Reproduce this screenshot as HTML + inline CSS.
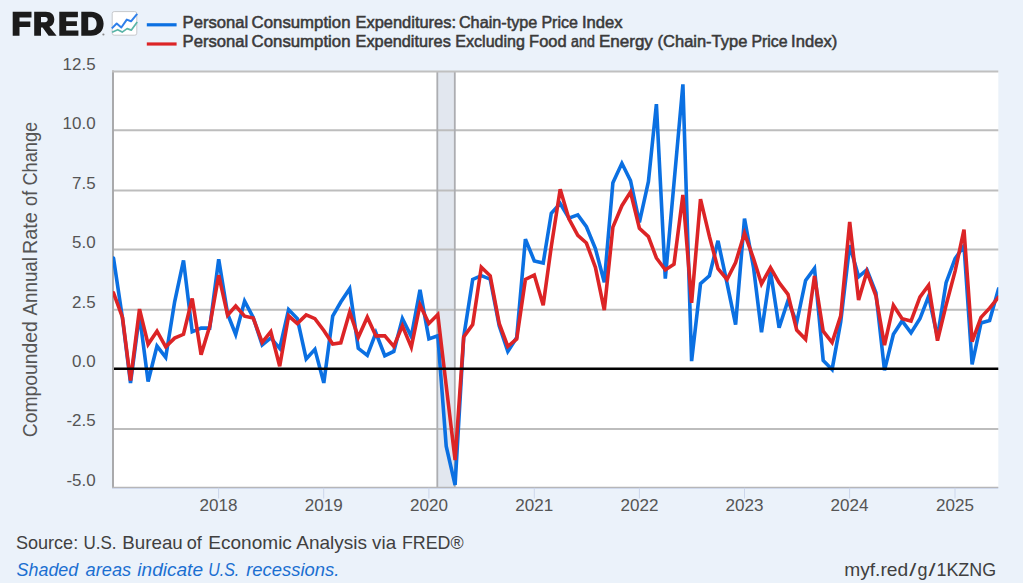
<!DOCTYPE html>
<html><head><meta charset="utf-8"><title>FRED</title>
<style>
html,body{margin:0;padding:0;background:#ebf2fa;}
body{width:1023px;height:583px;overflow:hidden;position:relative;font-family:"Liberation Sans",sans-serif;}
svg{position:absolute;left:0;top:0;}
text{font-family:"Liberation Sans",sans-serif;}
.ax{font-size:16.5px;fill:#555;}
.lg{font-size:16.5px;fill:#3a3a3a;stroke:#3a3a3a;stroke-width:0.55px;}
.ft{font-size:18.2px;fill:#404040;}
</style></head><body>
<svg width="1023" height="583" viewBox="0 0 1023 583">
<rect x="0" y="0" width="1023" height="583" fill="#ebf2fa"/>
<rect x="113" y="71.3" width="885.3" height="415.7" fill="#ffffff"/>
<rect x="437.3" y="71.3" width="17.5" height="415.7" fill="#e2e7ef"/>
<line x1="113" x2="998.3" y1="130.3" y2="130.3" stroke="#bdbdbd" stroke-width="2"/><line x1="113" x2="998.3" y1="190.5" y2="190.5" stroke="#bdbdbd" stroke-width="2"/><line x1="113" x2="998.3" y1="249.5" y2="249.5" stroke="#bdbdbd" stroke-width="2"/><line x1="113" x2="998.3" y1="309.7" y2="309.7" stroke="#bdbdbd" stroke-width="2"/><line x1="113" x2="998.3" y1="428.9" y2="428.9" stroke="#bdbdbd" stroke-width="2"/>
<line x1="437.3" x2="437.3" y1="71.3" y2="487" stroke="#acadb1" stroke-width="1.8"/>
<line x1="454.8" x2="454.8" y1="71.3" y2="487" stroke="#acadb1" stroke-width="1.8"/>
<line x1="113" x2="113" y1="70.5" y2="487.8" stroke="#a6a6a8" stroke-width="1.9"/>
<line x1="112" x2="998.3" y1="71.6" y2="71.6" stroke="#c0c0c0" stroke-width="2"/>
<line x1="112" x2="998.3" y1="488.5" y2="488.5" stroke="#d0d9ec" stroke-width="1"/><line x1="112" x2="998.3" y1="487.4" y2="487.4" stroke="#b6b6b8" stroke-width="1.2"/>
<line x1="218.6" x2="218.6" y1="487.8" y2="498.5" stroke="#ccd6eb" stroke-width="1"/><line x1="323.7" x2="323.7" y1="487.8" y2="498.5" stroke="#ccd6eb" stroke-width="1"/><line x1="428.9" x2="428.9" y1="487.8" y2="498.5" stroke="#ccd6eb" stroke-width="1"/><line x1="534.3" x2="534.3" y1="487.8" y2="498.5" stroke="#ccd6eb" stroke-width="1"/><line x1="639.4" x2="639.4" y1="487.8" y2="498.5" stroke="#ccd6eb" stroke-width="1"/><line x1="744.5" x2="744.5" y1="487.8" y2="498.5" stroke="#ccd6eb" stroke-width="1"/><line x1="849.6" x2="849.6" y1="487.8" y2="498.5" stroke="#ccd6eb" stroke-width="1"/><line x1="955.0" x2="955.0" y1="487.8" y2="498.5" stroke="#ccd6eb" stroke-width="1"/>
<clipPath id="cp"><rect x="113" y="60" width="885.3" height="440"/></clipPath>
<g clip-path="url(#cp)" fill="none" stroke-linejoin="miter" stroke-miterlimit="4" stroke-linecap="round">
<path d="M113.5 258.0 L122.5 318.6 L130.5 383.1 L139.5 315.0 L148.1 381.5 L157.0 346.1 L165.7 357.3 L174.6 302.0 L183.5 260.4 L192.2 331.8 L201.1 328.1 L209.7 328.1 L218.7 259.2 L227.6 313.9 L235.7 334.5 L244.6 301.1 L253.2 317.4 L262.2 344.9 L270.8 337.9 L279.7 348.3 L288.6 309.6 L297.3 318.6 L306.2 358.9 L314.9 349.3 L323.8 382.9 L332.7 316.2 L340.8 302.0 L349.7 288.7 L358.3 348.3 L367.3 355.4 L375.9 332.8 L384.8 355.7 L393.8 351.4 L402.4 318.6 L411.3 336.6 L420.0 289.9 L428.9 338.9 L437.8 335.7 L446.2 446.2 L455.1 485.0 L463.7 336.9 L472.7 279.4 L481.3 275.6 L490.2 279.2 L499.2 325.7 L507.8 351.4 L516.7 337.6 L525.4 239.1 L534.3 260.9 L543.2 263.0 L551.3 213.3 L560.2 203.5 L568.9 218.1 L577.8 214.9 L586.4 226.7 L595.4 248.5 L604.3 282.3 L612.9 182.7 L621.9 163.3 L630.5 180.6 L639.4 222.3 L648.4 181.7 L656.4 104.1 L665.3 278.6 L674.0 183.2 L682.9 84.4 L691.6 361.1 L700.5 283.7 L709.4 275.8 L718.0 240.8 L727.0 283.0 L735.6 324.6 L744.5 218.7 L753.5 267.3 L761.5 332.2 L770.5 271.5 L779.1 327.8 L788.0 300.5 L796.7 322.6 L805.6 280.4 L814.5 268.4 L823.2 360.4 L832.1 369.4 L840.7 321.9 L849.7 245.2 L858.6 276.8 L866.9 269.7 L875.9 292.7 L884.5 370.4 L893.4 334.3 L902.1 321.0 L911.0 332.9 L919.9 318.8 L928.6 296.3 L937.5 336.9 L946.1 282.7 L955.1 258.7 L964.0 245.8 L972.1 364.3 L981.0 322.9 L989.6 320.5 L998.5 288.9" stroke="#0b70e2" stroke-width="3.6"/>
<path d="M113.5 292.9 L122.5 317.4 L130.5 380.5 L139.5 309.1 L148.1 344.3 L157.0 331.2 L165.7 346.9 L174.6 338.1 L183.5 334.3 L192.2 298.5 L201.1 354.6 L209.7 326.4 L218.7 275.2 L227.6 315.1 L235.7 306.0 L244.6 316.2 L253.2 318.1 L262.2 342.4 L270.8 331.7 L279.7 366.3 L288.6 315.8 L297.3 323.6 L306.2 314.9 L314.9 318.6 L323.8 330.5 L332.7 344.1 L340.8 342.8 L349.7 311.9 L358.3 337.3 L367.3 317.2 L375.9 335.9 L384.8 335.9 L393.8 346.4 L402.4 325.8 L411.3 347.1 L420.0 304.9 L428.9 323.5 L437.8 314.6 L446.2 385.6 L455.1 460.1 L463.7 336.9 L472.7 324.5 L481.3 267.3 L490.2 275.8 L499.2 323.4 L507.8 346.4 L516.7 339.0 L525.4 279.4 L534.3 275.0 L543.2 305.2 L551.3 246.4 L560.2 189.2 L568.9 218.8 L577.8 235.4 L586.4 243.0 L595.4 267.3 L604.3 310.1 L612.9 227.1 L621.9 205.7 L630.5 192.1 L639.4 228.3 L648.4 236.6 L656.4 258.0 L665.3 269.9 L674.0 264.2 L682.9 194.9 L691.6 302.9 L700.5 199.1 L709.4 236.4 L718.0 268.7 L727.0 279.5 L735.6 262.5 L744.5 233.3 L753.5 258.5 L761.5 283.9 L770.5 267.6 L779.1 282.7 L788.0 294.4 L796.7 330.0 L805.6 339.3 L814.5 276.0 L823.2 331.2 L832.1 342.5 L840.7 315.8 L849.7 222.0 L858.6 300.0 L866.9 271.7 L875.9 295.8 L884.5 345.2 L893.4 305.3 L902.1 318.8 L911.0 321.1 L919.9 297.2 L928.6 285.3 L937.5 340.7 L946.1 305.1 L955.1 271.1 L964.0 229.7 L972.1 341.6 L981.0 317.4 L989.6 308.1 L998.5 297.2" stroke="#dc2426" stroke-width="3.6"/>
</g>
<line x1="114" x2="998.3" y1="368.75" y2="368.75" stroke="#000" stroke-width="2.3"/>
<g transform="translate(218.6,510.9) scale(1.035,1)"><text x="0" y="0" text-anchor="middle" class="ax">2018</text></g><g transform="translate(323.7,510.9) scale(1.035,1)"><text x="0" y="0" text-anchor="middle" class="ax">2019</text></g><g transform="translate(428.9,510.9) scale(1.035,1)"><text x="0" y="0" text-anchor="middle" class="ax">2020</text></g><g transform="translate(534.3,510.9) scale(1.035,1)"><text x="0" y="0" text-anchor="middle" class="ax">2021</text></g><g transform="translate(639.4,510.9) scale(1.035,1)"><text x="0" y="0" text-anchor="middle" class="ax">2022</text></g><g transform="translate(744.5,510.9) scale(1.035,1)"><text x="0" y="0" text-anchor="middle" class="ax">2023</text></g><g transform="translate(849.6,510.9) scale(1.035,1)"><text x="0" y="0" text-anchor="middle" class="ax">2024</text></g><g transform="translate(955.0,510.9) scale(1.035,1)"><text x="0" y="0" text-anchor="middle" class="ax">2025</text></g>
<g transform="translate(95.6,69.9) scale(1.027,1)"><text x="0" y="0" text-anchor="end" class="ax">12.5</text></g><g transform="translate(95.6,129.3) scale(1.027,1)"><text x="0" y="0" text-anchor="end" class="ax">10.0</text></g><g transform="translate(95.6,188.7) scale(1.027,1)"><text x="0" y="0" text-anchor="end" class="ax">7.5</text></g><g transform="translate(95.6,248.1) scale(1.027,1)"><text x="0" y="0" text-anchor="end" class="ax">5.0</text></g><g transform="translate(95.6,307.5) scale(1.027,1)"><text x="0" y="0" text-anchor="end" class="ax">2.5</text></g><g transform="translate(95.6,366.9) scale(1.027,1)"><text x="0" y="0" text-anchor="end" class="ax">0.0</text></g><g transform="translate(95.6,426.2) scale(1.027,1)"><text x="0" y="0" text-anchor="end" class="ax">-2.5</text></g><g transform="translate(95.6,485.6) scale(1.027,1)"><text x="0" y="0" text-anchor="end" class="ax">-5.0</text></g>
<g transform="translate(36.6,0) rotate(-90)" style="font-size:20.4px;fill:#555;"><text x="-437.2" y="0" textLength="116.0" lengthAdjust="spacingAndGlyphs">Compounded</text><text x="-315.5" y="0" textLength="58.5" lengthAdjust="spacingAndGlyphs">Annual</text><text x="-254.0" y="0" textLength="41.8" lengthAdjust="spacingAndGlyphs">Rate</text><text x="-206.0" y="0" textLength="15.2" lengthAdjust="spacingAndGlyphs">of</text><text x="-185.6" y="0" textLength="63.8" lengthAdjust="spacingAndGlyphs">Change</text></g>
<!-- legend -->
<line x1="146.8" x2="176.6" y1="24.8" y2="24.8" stroke="#0b70e2" stroke-width="3.2"/>
<line x1="146.8" x2="176.6" y1="44" y2="44" stroke="#dc2426" stroke-width="3.2"/>
<text x="182.60" y="28.2" class="lg" textLength="65.60" lengthAdjust="spacingAndGlyphs">Personal</text><text x="251.60" y="28.2" class="lg" textLength="98.90" lengthAdjust="spacingAndGlyphs">Consumption</text><text x="355.50" y="28.2" class="lg" textLength="100.50" lengthAdjust="spacingAndGlyphs">Expenditures:</text><text x="458.90" y="28.2" class="lg" textLength="78.50" lengthAdjust="spacingAndGlyphs">Chain-type</text><text x="541.40" y="28.2" class="lg" textLength="36.50" lengthAdjust="spacingAndGlyphs">Price</text><text x="581.90" y="28.2" class="lg" textLength="40.70" lengthAdjust="spacingAndGlyphs">Index</text><text x="182.60" y="47.3" class="lg" textLength="65.60" lengthAdjust="spacingAndGlyphs">Personal</text><text x="251.60" y="47.3" class="lg" textLength="98.90" lengthAdjust="spacingAndGlyphs">Consumption</text><text x="355.50" y="47.3" class="lg" textLength="95.30" lengthAdjust="spacingAndGlyphs">Expenditures</text><text x="455.30" y="47.3" class="lg" textLength="69.70" lengthAdjust="spacingAndGlyphs">Excluding</text><text x="529.10" y="47.3" class="lg" textLength="37.50" lengthAdjust="spacingAndGlyphs">Food</text><text x="571.10" y="47.3" class="lg" textLength="23.70" lengthAdjust="spacingAndGlyphs">and</text><text x="598.90" y="47.3" class="lg" textLength="54.00" lengthAdjust="spacingAndGlyphs">Energy</text><text x="657.60" y="47.3" class="lg" textLength="89.70" lengthAdjust="spacingAndGlyphs">(Chain-Type</text><text x="751.40" y="47.3" class="lg" textLength="36.20" lengthAdjust="spacingAndGlyphs">Price</text><text x="791.10" y="47.3" class="lg" textLength="46.10" lengthAdjust="spacingAndGlyphs">Index)</text>

<!-- logo -->
<g fill="#1b1b1b">
<path d="M12.7 11.7 H31.5 V17.5 H19.5 V21.6 H30.3 V27 H19.5 V35.8 H12.7 Z"/>
<path fill-rule="evenodd" d="M34.2 11.7 H45.8 C51.6 11.7 54.3 15 54.3 19.4 C54.3 23.2 52.4 25.6 49.4 26.7 L56.6 35.8 H48.6 L42.6 27.6 H41 V35.8 H34.2 Z M41 17 V22.2 H45 C46.8 22.2 47.7 21.1 47.7 19.6 C47.7 18.1 46.8 17 45 17 Z"/>
<path d="M59.3 11.7 H77.9 V17.2 H66.2 V21.2 H76.9 V26 H66.2 V30.4 H78.4 V35.8 H59.3 Z"/>
<path fill-rule="evenodd" d="M81.3 11.7 H91 C98.8 11.7 103.6 16.6 103.6 23.75 C103.6 30.9 98.8 35.8 91 35.8 H81.3 Z M88.2 17.3 V30.2 H90.9 C94.5 30.2 96.6 27.6 96.6 23.75 C96.6 19.9 94.5 17.3 90.9 17.3 Z"/>
</g>
<circle cx="103.4" cy="34.5" r="1.1" fill="#8a8a8a"/>
<rect x="112.2" y="11.6" width="24.6" height="23.6" rx="2" fill="#fff" stroke="#c6c8cc" stroke-width="1"/>
<polyline points="111.8,28.4 116.7,23.5 121.3,27.5 126.8,19.6 131,21.3 137.2,13.8" fill="none" stroke="#2f80ea" stroke-width="2" stroke-linejoin="round"/>
<polyline points="112.1,32.3 117.7,29.7 122.2,32.1 127.1,28.6 131.4,30.1 137.2,21.9" fill="none" stroke="#5ab5a8" stroke-width="1.7" stroke-linejoin="round"/>
<!-- footer -->
<text x="15.90" y="548.8" class="ft" textLength="62.30" lengthAdjust="spacingAndGlyphs">Source:</text><text x="83.40" y="548.8" class="ft" textLength="33.10" lengthAdjust="spacingAndGlyphs">U.S.</text><text x="122.30" y="548.8" class="ft" textLength="60.50" lengthAdjust="spacingAndGlyphs">Bureau</text><text x="186.80" y="548.8" class="ft" textLength="15.10" lengthAdjust="spacingAndGlyphs">of</text><text x="208.30" y="548.8" class="ft" textLength="83.60" lengthAdjust="spacingAndGlyphs">Economic</text><text x="296.30" y="548.8" class="ft" textLength="70.80" lengthAdjust="spacingAndGlyphs">Analysis</text><text x="372.10" y="548.8" class="ft" textLength="24.00" lengthAdjust="spacingAndGlyphs">via</text><text x="401.90" y="548.8" class="ft" textLength="61.70" lengthAdjust="spacingAndGlyphs">FRED®</text><text x="16.60" y="575.6" class="ft" textLength="61.60" lengthAdjust="spacingAndGlyphs" style="font-style:italic;fill:#1b6fd1;">Shaded</text><text x="85.60" y="575.6" class="ft" textLength="45.50" lengthAdjust="spacingAndGlyphs" style="font-style:italic;fill:#1b6fd1;">areas</text><text x="137.30" y="575.6" class="ft" textLength="65.70" lengthAdjust="spacingAndGlyphs" style="font-style:italic;fill:#1b6fd1;">indicate</text><text x="208.30" y="575.6" class="ft" textLength="31.00" lengthAdjust="spacingAndGlyphs" style="font-style:italic;fill:#1b6fd1;">U.S.</text><text x="246.20" y="575.6" class="ft" textLength="93.20" lengthAdjust="spacingAndGlyphs" style="font-style:italic;fill:#1b6fd1;">recessions.</text>

<text x="844.20" y="575.6" class="ft" textLength="64.00" lengthAdjust="spacingAndGlyphs">myf.red</text><text x="909.20" y="575.6" class="ft" textLength="7.00" lengthAdjust="spacingAndGlyphs">/</text><text x="917.40" y="575.6" class="ft" textLength="10.00" lengthAdjust="spacingAndGlyphs">g</text><text x="928.50" y="575.6" class="ft" textLength="7.10" lengthAdjust="spacingAndGlyphs">/</text><text x="936.50" y="575.6" class="ft" textLength="59.60" lengthAdjust="spacingAndGlyphs">1KZNG</text>
</svg>
</body></html>
